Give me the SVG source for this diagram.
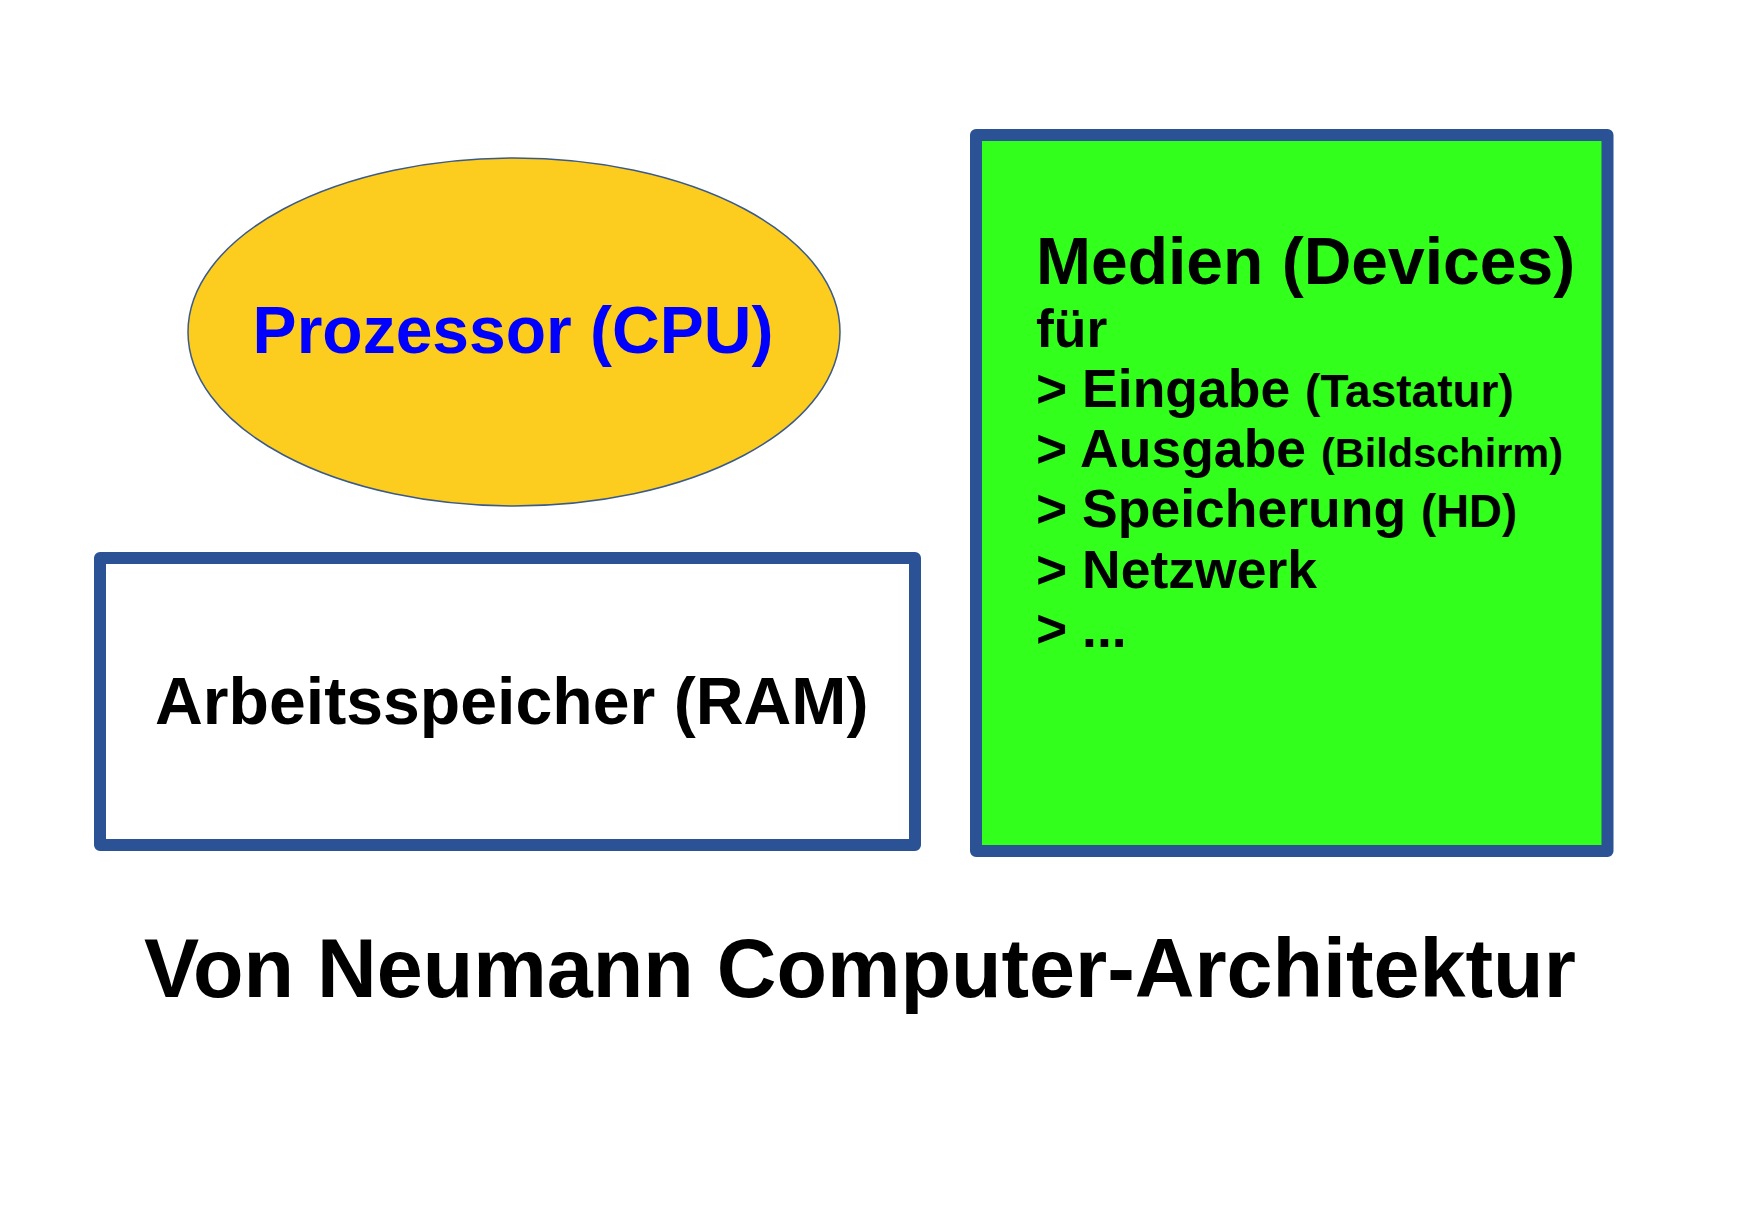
<svg xmlns="http://www.w3.org/2000/svg" width="1742" height="1232" viewBox="0 0 1742 1232">
  <style>
    .lbl { font-family: "Liberation Sans", Arial, sans-serif; font-weight: bold; }
    .box { stroke: #2b5294; stroke-width: 12; stroke-linejoin: round; }
  </style>
  <rect width="1742" height="1232" fill="#ffffff"/>

  <!-- CPU -->
  <g id="cpu">
    <ellipse cx="514" cy="332" rx="326" ry="174" fill="#fccc1e" stroke="#3b5a8c" stroke-width="1.5"/>
    <text class="lbl" x="513" y="353" font-size="66" fill="#0000ff" text-anchor="middle">Prozessor (CPU)</text>
  </g>

  <!-- RAM -->
  <g id="ram">
    <rect class="box" x="100" y="558" width="815" height="287" fill="#ffffff"/>
    <text class="lbl" x="155" y="724" font-size="66.2" fill="#000000">Arbeitsspeicher (RAM)</text>
  </g>

  <!-- Devices -->
  <g id="devices">
    <rect class="box" x="976" y="135" width="631.5" height="716" fill="#32ff1c"/>
    <g class="lbl" fill="#000000">
      <text x="1036" y="284" font-size="66">Medien (Devices)</text>
      <text x="1036" y="347" font-size="53.5">für</text>
      <text x="1036" y="407" font-size="53.5">&gt; Eingabe <tspan font-size="46">(Tastatur)</tspan></text>
      <text x="1036" y="467" font-size="53.5">&gt; Ausgabe <tspan font-size="41.5">(Bildschirm)</tspan></text>
      <text x="1036" y="527" font-size="53.5">&gt; Speicherung <tspan font-size="45.5">(HD)</tspan></text>
      <text x="1036" y="588" font-size="53.5">&gt; Netzwerk</text>
      <text x="1036" y="647" font-size="53.5">&gt; ...</text>
    </g>
  </g>

  <!-- no connectors in this figure -->
  <g id="connectors"/>

  <!-- caption -->
  <text class="lbl" x="144" y="997" font-size="82.7" fill="#000000">Von Neumann Computer-Architektur</text>
</svg>
